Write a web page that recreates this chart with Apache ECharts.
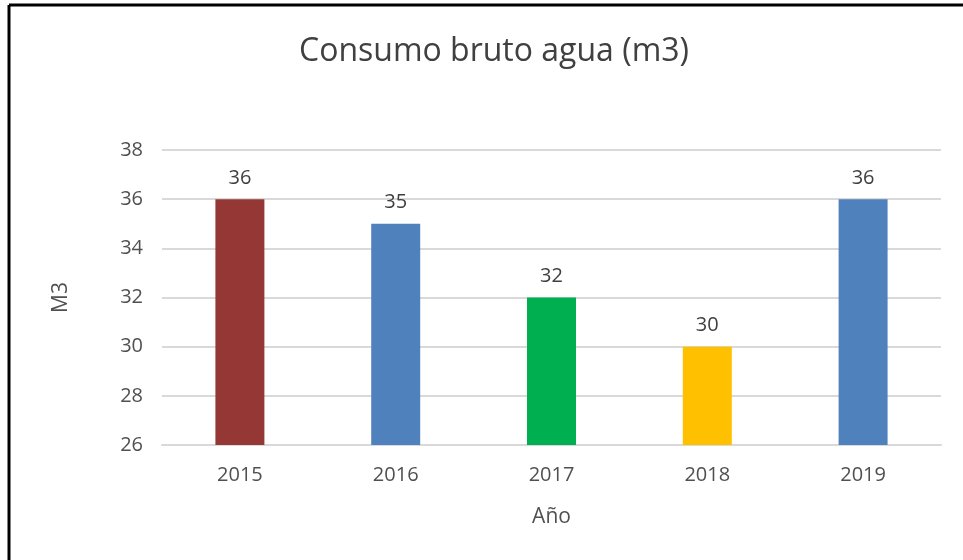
<!DOCTYPE html>
<html>
<head>
<meta charset="utf-8">
<script src="https://cdn.jsdelivr.net/npm/echarts@6/dist/echarts.min.js"></script>
<style>
  html, body { margin: 0; padding: 0; background: #fff; }
  #chart { width: 963px; height: 560px; }
</style>
</head>
<body>
<div id="chart"></div>
<script>
var years = ["2015", "2016", "2017", "2018", "2019"];
var consumo = [36, 35, 32, 30, 36];
var barColors = ["#953735", "#4f81bd", "#00b050", "#ffc000", "#4f81bd"];

var myChart = echarts.init(document.getElementById("chart"));
var fontFam = "'Open Sans', 'Noto Sans', sans-serif";
var option = {
  backgroundColor: "#fff",
  animation: false,
  title: {
    text: "Consumo bruto agua (m3)",
    left: 489,
    top: 31,
    textAlign: "center",
    textStyle: { fontFamily: fontFam, fontSize: 32, fontWeight: "normal", color: "#404040" }
  },
  grid: { left: 162, right: 22, top: 150, bottom: 115 },
  xAxis: {
    type: "category",
    data: years,
    name: "Año",
    nameLocation: "middle",
    nameGap: 62,
    nameTextStyle: { fontFamily: fontFam, fontSize: 21, color: "#505050" },
    axisTick: { show: false },
    axisLine: { lineStyle: { color: "#d9d9d9", width: 2 } },
    axisLabel: { fontFamily: fontFam, fontSize: 20, color: "#505050", margin: 20 }
  },
  yAxis: {
    type: "value",
    min: 26,
    max: 38,
    interval: 2,
    name: "M3",
    nameLocation: "middle",
    nameGap: 90,
    nameTextStyle: { fontFamily: fontFam, fontSize: 21, color: "#505050" },
    axisLine: { show: false },
    axisTick: { show: false },
    axisLabel: { fontFamily: fontFam, fontSize: 20, color: "#505050", margin: 19 },
    splitLine: { lineStyle: { color: "#d9d9d9", width: 2 } }
  },
  series: [
    {
      type: "bar",
      barWidth: 49,
      data: consumo.map(function (v, i) {
        return { value: v, itemStyle: { color: barColors[i] } };
      }),
      label: {
        show: true,
        position: "top",
        distance: 11,
        fontFamily: fontFam,
        fontSize: 20,
        color: "#404040"
      }
    }
  ],
  graphic: [
    { type: "line", shape: { x1: 9, y1: 5, x2: 963, y2: 5 }, style: { stroke: "#000", lineWidth: 3 } },
    { type: "line", shape: { x1: 9, y1: 5, x2: 9, y2: 560 }, style: { stroke: "#000", lineWidth: 3 } }
  ]
};
myChart.setOption(option, true);
</script>
</body>
</html>
